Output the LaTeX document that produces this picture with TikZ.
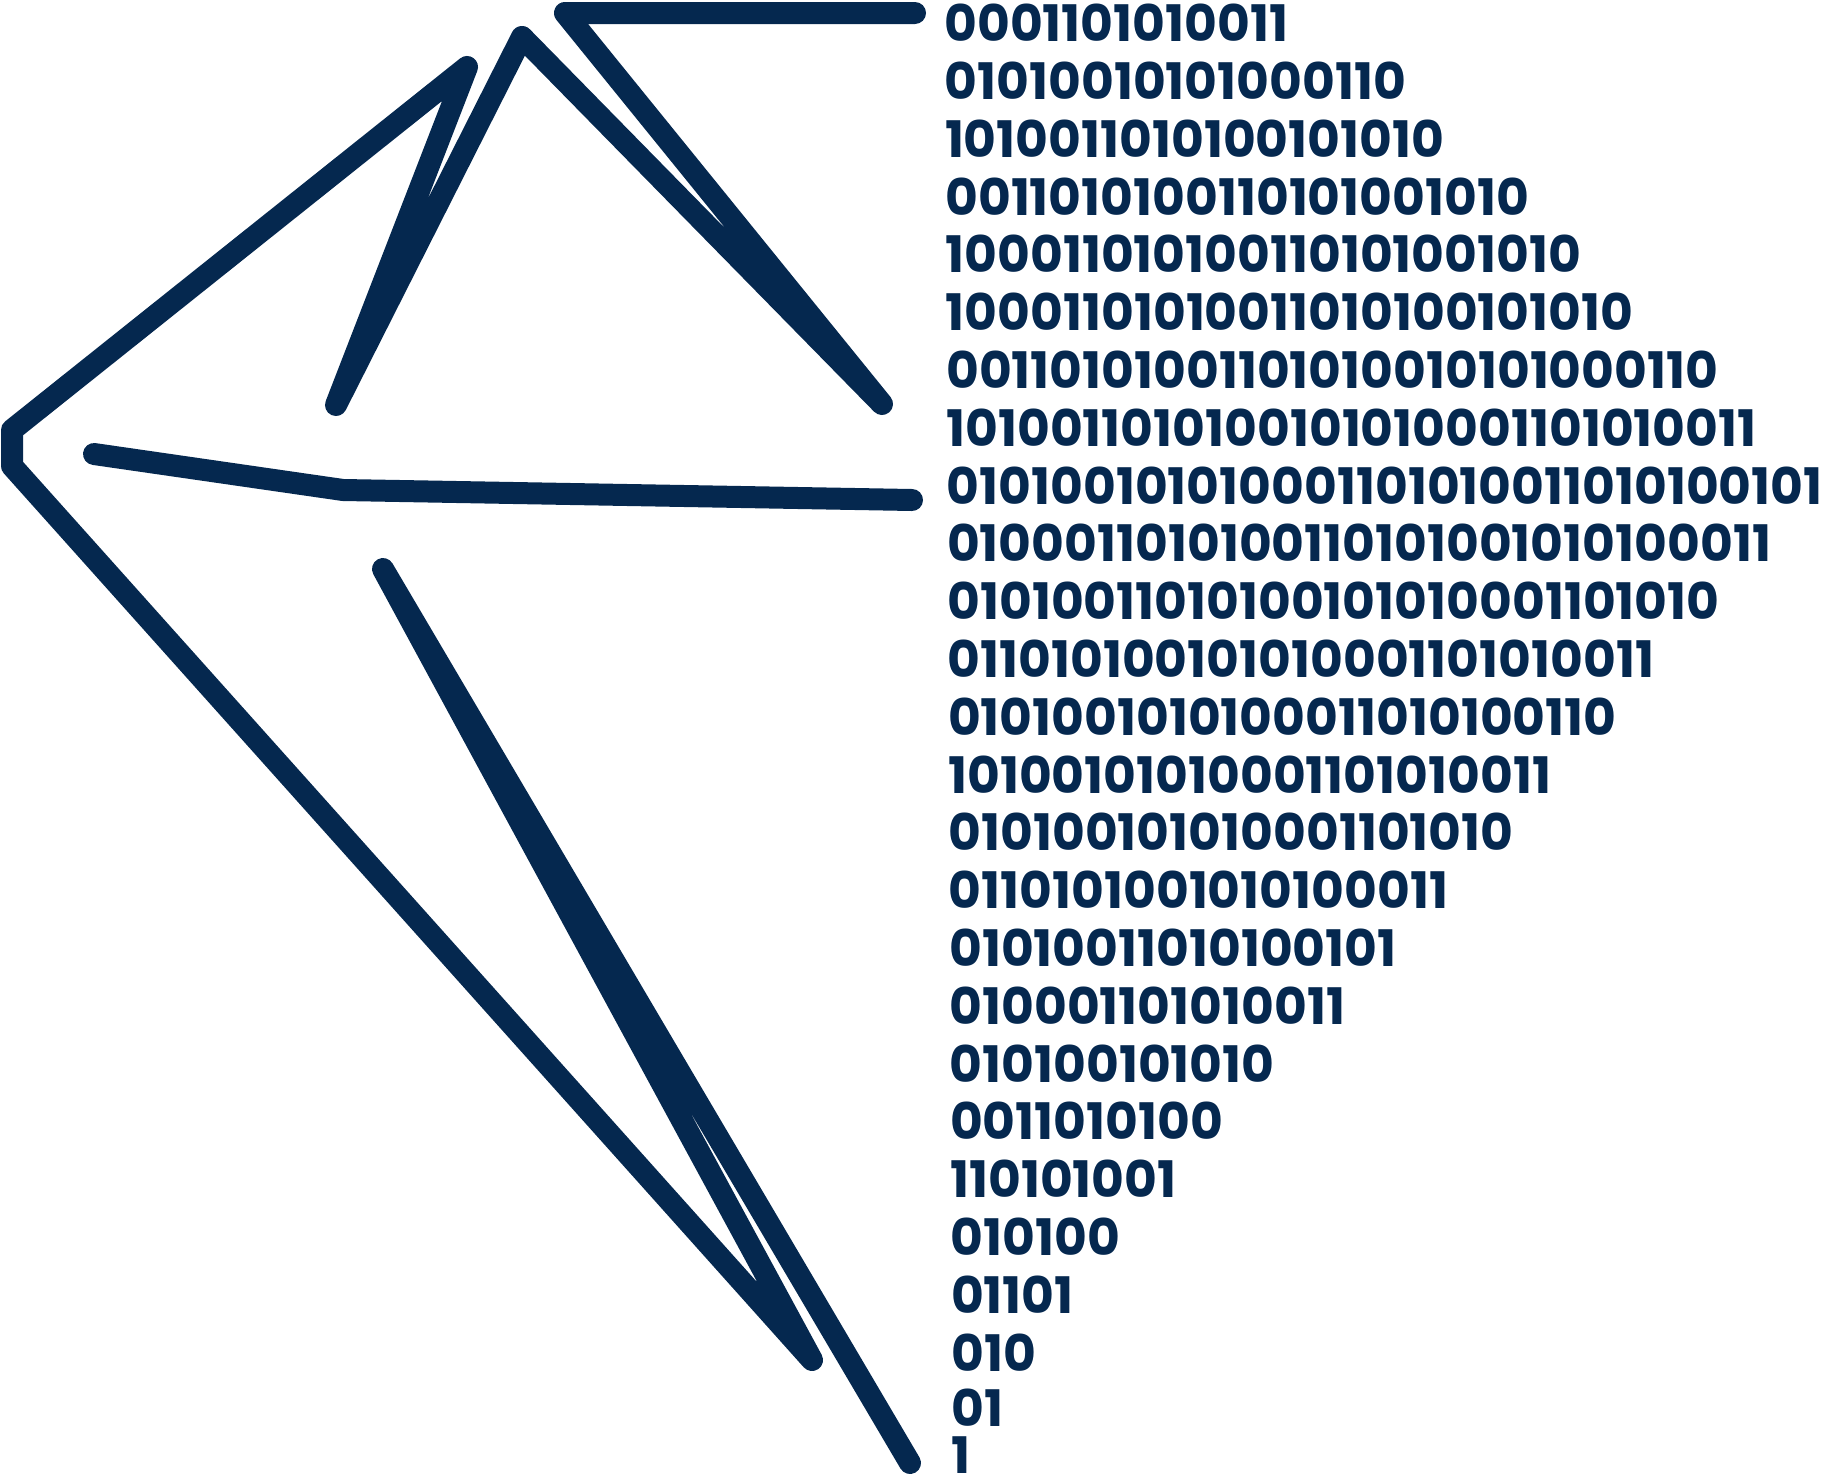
\documentclass[tikz,border=0pt]{standalone}
\usepackage{fontspec}
\setmainfont{Poppins}
\usepackage{tikz}
\usetikzlibrary{positioning}
\definecolor{navy}{HTML}{05284F}

\begin{document}
\begin{tikzpicture}[
  x=0.5pt, y=-0.5pt,
  stroke/.style={draw=navy,line width=11pt,line cap=round,line join=round},
  bits/.style={inner sep=0pt,text=navy,font=\fontsize{25.2}{25.2}\selectfont\bfseries},
  row/.style={bits,below right=28.9pt and 0.15pt of #1.west,anchor=west}
]
  \useasboundingbox (0,0) rectangle (1832,1478);

  % Outline corners
  \coordinate (h0) at (915,13);
  \coordinate (h1) at (565,13);
  \coordinate (p0) at (882,404);
  \coordinate (p1) at (522,37);
  \coordinate (p2) at (336,405);
  \coordinate (p3) at (467,67);
  \coordinate (l0) at (12,430);
  \coordinate (l1) at (12,466);
  \coordinate (q0) at (812,1360);
  \coordinate (q1) at (383,569);
  \coordinate (q2) at (910,1463);
  \draw [stroke] (h0) -- (h1) -- (p0) -- (p1) -- (p2) -- (p3) -- (l0) -- (l1)
    -- (q0) -- (q1) -- (q2);

  % Middle stroke
  \coordinate (m0) at (94,454);
  \coordinate (m1) at (343,490);
  \coordinate (m2) at (912,500);
  \draw [stroke] (m0) -- (m1) -- (m2);

  % Bit rows
  \node [bits,anchor=west] (b1) at (944,23) {0001101010011};
  \node [row=b1] (b2) {01010010101000110};
  \node [row=b2] (b3) {1010011010100101010};
  \node [row=b3] (b4) {0011010100110101001010};
  \node [row=b4] (b5) {100011010100110101001010};
  \node [row=b5] (b6) {10001101010011010100101010};
  \node [row=b6] (b7) {00110101001101010010101000110};
  \node [row=b7] (b8) {1010011010100101010001101010011};
  \node [row=b8] (b9) {010100101010001101010011010100101};
  \node [row=b9] (b10) {0100011010100110101001010100011};
  \node [row=b10] (b11) {01010011010100101010001101010};
  \node [row=b11] (b12) {011010100101010001101010011};
  \node [row=b12] (b13) {0101001010100011010100110};
  \node [row=b13] (b14) {10100101010001101010011};
  \node [row=b14] (b15) {010100101010001101010};
  \node [row=b15] (b16) {0110101001010100011};
  \node [row=b16] (b17) {01010011010100101};
  \node [row=b17] (b18) {010001101010011};
  \node [row=b18] (b19) {010100101010};
  \node [row=b19] (b20) {0011010100};
  \node [row=b20] (b21) {110101001};
  \node [row=b21] (b22) {010100};
  \node [row=b22] (b23) {01101};
  \node [row=b23] (b24) {010};
  \node [bits,below right=27.5pt and 0.15pt of b24.west,anchor=west] (b25) {01};
  \node [bits,below right=24pt and 0.15pt of b25.west,anchor=west] (b26) {1};
\end{tikzpicture}
\end{document}
